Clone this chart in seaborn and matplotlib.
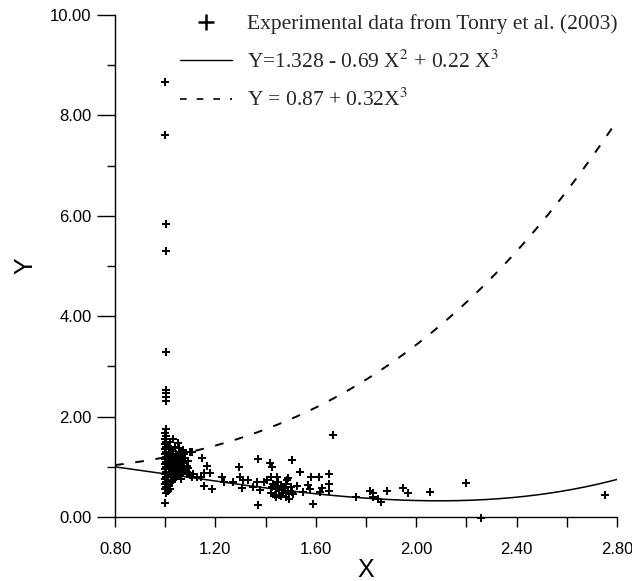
import numpy as np
import pandas as pd
import matplotlib
matplotlib.use("Agg")
import matplotlib.pyplot as plt
from matplotlib.lines import Line2D
from matplotlib.ticker import MultipleLocator, FormatStrFormatter
import seaborn as sns

sns.set_theme(style="white")
plt.rcParams["font.family"] = ["Liberation Sans", "DejaVu Sans"]
plt.rcParams["mathtext.fontset"] = "stix"

# ---- data ----
data_x = [
    # outliers at X ~ 1.0
    1.00, 1.00, 1.005, 1.003, 1.003, 1.003, 1.003, 1.003, 1.003, 1.003,
    # vertical column at X ~ 1.00
    1.00, 1.005, 1.00, 1.005, 1.00, 1.005, 1.00, 1.005, 1.00, 1.005,
    1.00, 1.005, 1.00, 1.005, 1.00, 1.005, 1.00, 1.005, 1.00, 1.005,
    1.00, 1.005, 1.00, 1.005, 1.00,
    # dense blob X 1.01-1.10
    1.012, 1.015, 1.02, 1.018, 1.025, 1.013, 1.03, 1.022, 1.035, 1.016,
    1.028, 1.04, 1.045, 1.02, 1.033, 1.05, 1.012, 1.025, 1.04, 1.055,
    1.06, 1.048, 1.038, 1.052, 1.045, 1.03, 1.06, 1.065, 1.07, 1.075,
    1.055, 1.04, 1.02, 1.03, 1.05, 1.012, 1.02, 1.03, 1.015, 1.008,
    1.02, 1.01, 1.065, 1.07, 1.075, 1.08, 1.085, 1.09, 1.058, 1.062,
    1.035, 1.025, 1.068, 1.08, 1.10, 1.09, 1.085, 1.095, 1.10, 1.11,
    1.027, 1.043, 1.018, 1.037, 1.053, 1.022, 1.047, 1.032, 1.058, 1.014,
    1.072, 1.107, 1.028, 1.063, 1.041,
    # scattered points X 1.1 - 1.7
    1.072, 1.108, 1.148, 1.167, 1.178, 1.156, 1.156, 1.187, 1.125, 1.141,
    1.225, 1.235, 1.271, 1.295, 1.298, 1.311, 1.331, 1.307, 1.349, 1.371,
    1.371, 1.367, 1.378, 1.394, 1.418, 1.424, 1.407, 1.420, 1.444, 1.433,
    1.451, 1.464, 1.437, 1.484, 1.477, 1.667, 1.504, 1.537, 1.490, 1.651,
    1.614, 1.579, 1.654, 1.654, 1.624, 1.617, 1.570, 1.577, 1.548, 1.524,
    1.504, 1.494, 1.588, 1.466, 1.454, 1.440, 1.427, 1.420,
    1.46, 1.47, 1.48, 1.45, 1.49, 1.50, 1.43, 1.47, 1.44, 1.46, 1.48, 1.51,
    # X 1.7 - 2.8
    1.760, 1.816, 1.826, 1.849, 1.826, 1.858, 1.885, 1.949, 1.969, 2.053,
    2.198, 2.257, 2.754,
]
data_y = [
    8.66, 7.60, 5.84, 5.30, 3.29, 2.53, 2.47, 2.40, 2.32, 1.75,
    1.68, 1.62, 1.55, 1.50, 1.45, 1.40, 1.35, 1.30, 1.25, 1.20,
    1.15, 1.10, 1.05, 1.00, 0.95, 0.90, 0.85, 0.80, 0.75, 0.70,
    0.65, 0.60, 0.55, 0.48, 0.28,
    1.42, 1.35, 1.28, 1.20, 1.15, 1.10, 1.08, 1.02, 1.00, 0.96,
    0.93, 0.95, 0.90, 0.88, 0.85, 0.86, 0.82, 0.80, 0.78, 0.82,
    0.88, 1.05, 1.12, 1.18, 1.25, 1.32, 1.30, 1.22, 1.33, 1.25,
    1.38, 1.40, 1.50, 1.55, 1.48, 0.72, 0.68, 0.74, 0.62, 0.58,
    0.55, 0.52, 1.00, 0.95, 1.08, 0.92, 1.02, 0.98, 0.96, 1.10,
    1.18, 1.24, 1.15, 1.18, 1.30, 1.12, 0.85, 0.88, 0.84, 0.86,
    1.05, 1.20, 0.98, 0.90, 1.10, 1.36, 0.99, 1.14, 1.02, 0.90,
    0.87, 0.80, 0.70, 0.76, 0.92,
    1.30, 1.30, 1.18, 1.02, 0.88, 0.87, 0.62, 0.56, 0.80, 0.80,
    0.79, 0.70, 0.70, 1.00, 0.80, 0.74, 0.74, 0.57, 0.59, 1.15,
    0.24, 0.70, 0.54, 0.70, 1.07, 1.00, 0.74, 0.80, 0.80, 0.64,
    0.57, 0.47, 0.44, 0.74, 0.60, 1.63, 1.14, 0.90, 0.77, 0.86,
    0.80, 0.79, 0.66, 0.52, 0.57, 0.50, 0.64, 0.55, 0.50, 0.62,
    0.50, 0.35, 0.26, 0.54, 0.44, 0.39, 0.60, 0.47,
    0.62, 0.58, 0.66, 0.70, 0.52, 0.60, 0.66, 0.48, 0.56, 0.42, 0.40, 0.45,
    0.39, 0.52, 0.47, 0.35, 0.39, 0.29, 0.52, 0.58, 0.47, 0.50,
    0.67, -0.02, 0.44,
]

# curve coefficients (from the legend equations), constant..cubic
fit1_coef = [1.328, 0.0, -0.69, 0.22]
fit2_coef = [0.87, 0.0, 0.0, 0.32]
x_range = [0.8, 2.8]

legend_labels = [
    "Experimental data from Tonry et al. (2003)",
    r"Y=1.328 - 0.69 X$^{2}$ + 0.22 X$^{3}$",
    r"Y = 0.87 + 0.32X$^{3}$",
]

# ---- build frames ----
pts = pd.DataFrame({"X": data_x, "Y": data_y})
xs = np.linspace(x_range[0], x_range[1], 300)
curves = pd.DataFrame({
    "X": xs,
    "fit1": np.polynomial.polynomial.polyval(xs, fit1_coef),
    "fit2": np.polynomial.polynomial.polyval(xs, fit2_coef),
})

fig = plt.figure(figsize=(6.32, 5.81), dpi=100)
ax = fig.add_axes([115 / 632, 1 - 517 / 581, 502 / 632, 502 / 581])

sns.lineplot(data=curves, x="X", y="fit1", ax=ax, color="black", lw=1.1)
sns.lineplot(data=curves, x="X", y="fit2", ax=ax, color="black", lw=1.4,
             dashes=False)
ax.lines[-1].set_dashes((4.5, 6))
sns.scatterplot(data=pts, x="X", y="Y", ax=ax, marker="P", s=36,
                color="black", linewidth=0, clip_on=False, zorder=3)

ax.set_xlim(0.8, 2.8)
ax.set_ylim(0, 10)
ax.xaxis.set_major_locator(MultipleLocator(0.4))
ax.xaxis.set_minor_locator(MultipleLocator(0.2))
ax.yaxis.set_major_locator(MultipleLocator(2))
ax.yaxis.set_minor_locator(MultipleLocator(1))
ax.xaxis.set_major_formatter(FormatStrFormatter("%.2f"))
ax.yaxis.set_major_formatter(FormatStrFormatter("%.2f"))

for s in ["top", "right"]:
    ax.spines[s].set_visible(False)
for s in ["left", "bottom"]:
    ax.spines[s].set_color("black")
    ax.spines[s].set_linewidth(1.0)

ax.tick_params(axis="y", which="major", direction="out", length=13, width=1,
               color="black", labelsize=12, pad=4, left=True)
ax.tick_params(axis="y", which="minor", direction="out", length=6, width=1,
               color="black", left=True)
ax.tick_params(axis="x", which="major", direction="out", length=7, width=1,
               color="black", labelsize=12, pad=11, bottom=True)
ax.tick_params(axis="x", which="minor", direction="out", length=7, width=1,
               color="black", bottom=True)
for lab in ax.get_xticklabels() + ax.get_yticklabels():
    lab.set_color("black")

ax.set_xlabel("X", fontsize=18, color="black", labelpad=1)
ax.set_ylabel("Y", fontsize=18, color="black", labelpad=9)
ax.grid(False)

handles = [
    Line2D([], [], ls="none", marker="+", markersize=12, mew=1.8, color="black"),
    Line2D([], [], ls="-", lw=1.0, color="black"),
    Line2D([], [], ls=(0, (4, 6)), lw=1.2, color="black"),
]
leg = ax.legend(handles, legend_labels, loc="upper right",
                bbox_to_anchor=(1.04, 1.04), frameon=False,
                prop={"family": "Liberation Serif", "size": 15.5},
                handlelength=2.4, handletextpad=0.7, labelspacing=0.75)

fig.savefig("out.png", dpi=100, facecolor="white")
